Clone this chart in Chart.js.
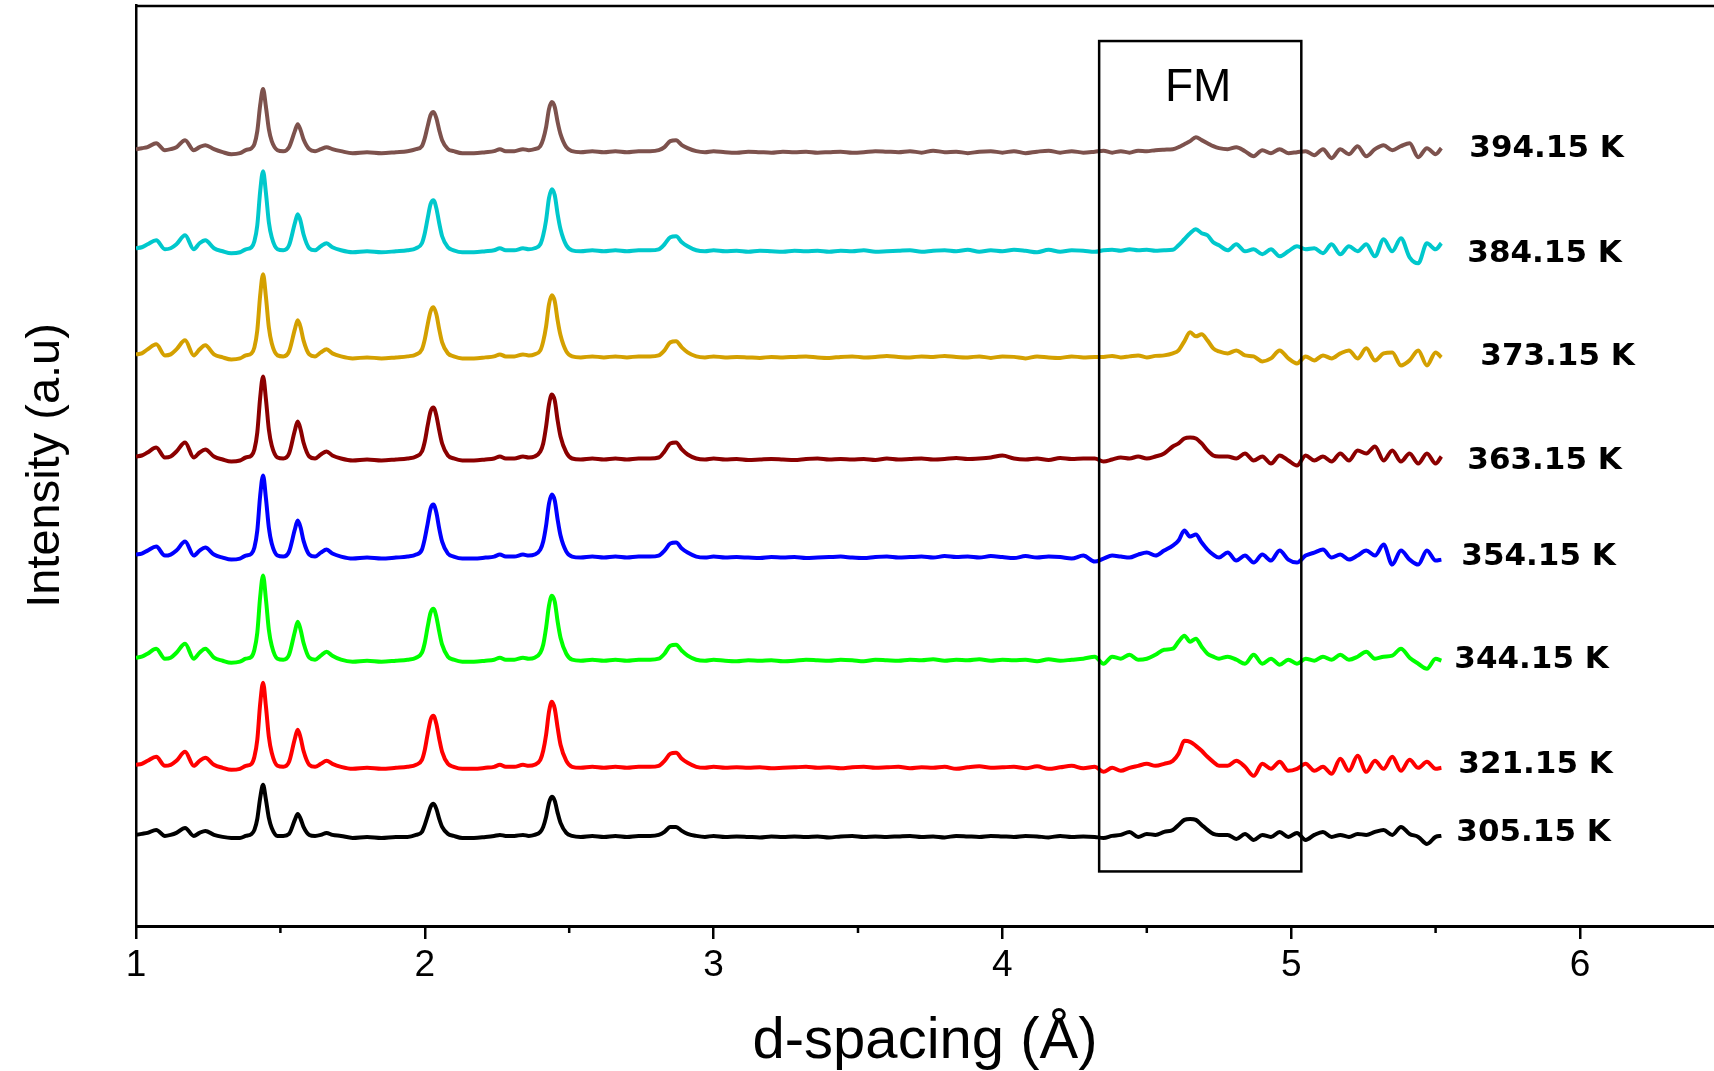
<!DOCTYPE html>
<html>
<head>
<meta charset="utf-8">
<script src="https://cdn.jsdelivr.net/npm/chart.js@4"></script>
<style>
  html, body { margin: 0; padding: 0; background: #fff; }
  #wrap { width: 1714px; height: 1071px; }
</style>
</head>
<body>
<div id="wrap"><canvas id="myChart" width="1714" height="1071"></canvas></div>
<script>
// d-spacing grid (Å), shared by all scans
const dSpacing = [1.00,1.02,1.04,1.07,1.10,1.12,1.14,1.17,1.20,1.22,1.24,1.27,1.30,1.33,1.36,1.38,1.40,
  1.41,1.42,1.43,1.44,1.45,1.46,1.47,1.49,1.51,1.53,1.55,1.56,1.57,1.58,1.60,1.62,1.64,1.66,1.68,1.71,
  1.75,1.80,1.85,1.90,1.94,1.97,1.99,2.00,2.01,2.02,2.03,2.04,2.05,2.06,2.08,2.10,2.13,2.17,2.21,2.24,2.26,2.28,2.31,2.34,2.36,2.38,2.40,
  2.41,2.42,2.43,2.44,2.45,2.46,2.47,2.49,2.51,2.54,2.58,2.62,2.66,2.70,2.74,2.78,2.81,2.83,2.85,2.87,2.89,2.91,2.94,2.97,3.00,
  3.04,3.08,3.12,3.16,3.20,3.24,3.28,3.32,3.36,3.40,3.44,3.48,3.52,3.56,3.60,3.64,3.68,3.72,3.76,3.80,3.84,3.88,3.92,3.96,4.00,4.04,4.08,4.12,4.16,4.20,4.24,4.28,4.32,
  4.35,4.38,4.41,4.44,4.47,4.50,4.53,4.56,4.59,
  4.61,4.63,4.65,4.67,4.69,4.71,4.73,
  4.75,
  4.78,4.81,4.84,4.87,4.90,4.93,4.96,4.99,5.02,5.05,5.08,5.11,5.14,5.17,5.20,5.23,5.26,5.29,5.32,5.35,5.38,5.41,5.44,5.47,5.50,
  5.52];

const temps = ['394.15 K','384.15 K','373.15 K','363.15 K','354.15 K','344.15 K','321.15 K','305.15 K'];
// vertical offset of each scan (a.u.)
const offsets = [77.3, 67.4, 56.8, 46.6, 36.8, 26.5, 15.8, 8.9];

// intensity above each scan's baseline (a.u.)
const i394 = [0.3,0.4,0.5,0.9,0.2,0.3,0.5,1.2,0.2,0.5,0.7,0.3,0,-0.2,-0.1,0.2,0.4,
  0.8,2.1,4.7,6.3,4.5,2.3,1.1,0.2,0.1,0.5,2.1,2.8,2.2,1.3,0.3,0.1,0.3,0.5,0.3,0.1,
  -0.1,0,-0.1,0,0.1,0.3,0.6,1.4,2.6,3.7,4.0,3.4,2.2,1.2,0.3,0.1,-0.1,-0.1,0,0.1,0.3,0.1,0.1,0.3,0.2,0.3,0.6,
  1.3,2.5,4.3,5.0,4.5,3.0,1.8,0.5,0.1,0,0.1,0,0.1,0,0.1,0.1,0.2,0.5,1.1,1.2,0.7,0.4,0.1,0,0.1,
  0,-0.05,0.05,0,-0.05,0.05,0,0.05,-0.05,0,0.05,-0.05,0,0.1,0.05,0,0.1,-0.05,0.15,0,0.05,-0.1,0.05,0.1,-0.05,0.1,-0.1,0.05,0.15,-0.05,0.1,-0.05,0.05,
  0.15,-0.05,0.1,-0.05,0.15,0.1,0.2,0.25,0.3,
  0.5,0.8,1.1,1.5,1.2,0.9,0.6,
  0.4,
  0.3,0.5,0.1,-0.4,0.2,-0.1,0.3,-0.1,0.0,0.1,-0.3,0.3,-0.6,0.3,-0.2,0.6,-0.4,0.3,0.7,0.2,0.6,0.9,-0.5,0.4,-0.2,
  0.4];
const i384 = [0.3,0.4,0.7,1.1,0.2,0.3,0.7,1.6,0.2,0.8,1.1,0.3,0,-0.2,-0.1,0.2,0.4,
  1.0,2.6,6.0,8.0,5.8,2.9,1.4,0.2,0.1,0.6,2.8,3.7,3.0,1.7,0.3,0.1,0.5,0.8,0.4,0.1,
  -0.1,0,-0.1,0,0.1,0.3,0.8,1.8,3.3,4.7,5.1,4.3,2.8,1.5,0.4,0.1,-0.1,-0.1,0,0.1,0.3,0.1,0.1,0.3,0.2,0.3,0.7,
  1.6,3.1,5.3,6.2,5.6,3.7,2.2,0.6,0.1,0,0.1,0,0.1,0,0.1,0.1,0.2,0.7,1.4,1.5,0.9,0.5,0.1,0,0.1,
  0,0.05,-0.05,0.05,0,-0.05,0.05,0,0.05,-0.05,0.05,0,0.1,-0.05,0,0.05,0.1,-0.05,0.05,0.1,0,0.15,-0.05,0.1,0,0.15,0.05,-0.1,0.15,-0.05,0.1,0.05,-0.05,
  0.1,0.15,0.05,0.2,0.1,0.15,0.05,0.1,0.15,
  0.6,1.2,1.8,2.2,1.8,1.6,0.9,
  0.6,
  0.1,0.7,0.0,0.2,-0.3,0.2,-0.5,0.0,0.5,0.2,0.3,-0.2,0.7,-0.3,0.5,0.0,0.7,-0.5,1.2,0.0,1.3,-0.6,-1.2,0.8,0.2,
  0.8];
const i373 = [0.3,0.4,0.8,1.3,0.2,0.3,0.8,1.7,0.2,0.8,1.2,0.3,0,-0.2,-0.1,0.2,0.4,
  1.0,2.7,6.2,8.3,6.0,3.0,1.4,0.2,0.1,0.6,2.8,3.7,3.0,1.7,0.3,0.1,0.5,0.8,0.4,0.1,
  -0.1,0,-0.1,0,0.1,0.3,0.8,1.8,3.3,4.6,5.0,4.3,2.8,1.5,0.4,0.1,-0.1,-0.1,0,0.1,0.3,0.1,0.1,0.3,0.2,0.3,0.7,
  1.6,3.1,5.3,6.2,5.6,3.7,2.2,0.6,0.1,0,0.1,0,0.1,0,0.1,0.1,0.2,0.7,1.5,1.6,1.0,0.5,0.1,0,0.1,
  0,0.05,0,-0.05,0.05,0,0.05,0.1,0,-0.05,0.05,0.1,0,0.05,0.15,0.05,0,0.1,0.05,0.15,0.05,0,0.1,-0.05,0.1,0.05,-0.1,0.1,0,-0.05,0.1,0,0.05,
  0.05,0.15,0,0.1,0.2,0,0.15,0.2,0.4,
  0.7,1.6,2.5,2.1,2.3,1.7,0.9,
  0.6,
  0.4,0.7,0.2,0.1,-0.4,-0.1,0.7,-0.1,-0.6,0.1,-0.3,0.2,-0.1,0.4,0.7,-0.1,0.9,-0.3,0.4,0.5,-0.8,-0.3,0.7,-0.8,0.5,
  0.0];
const i363 = [0.3,0.4,0.7,1.2,0.2,0.3,0.8,1.7,0.2,0.7,1.0,0.3,0,-0.2,-0.1,0.2,0.4,
  1.0,2.7,6.2,8.3,6.0,3.0,1.4,0.2,0.1,0.6,2.9,3.8,3.0,1.7,0.3,0.1,0.5,0.8,0.4,0.1,
  -0.1,0,-0.1,0,0.1,0.3,0.8,1.8,3.4,4.8,5.2,4.4,2.9,1.6,0.4,0.1,-0.1,-0.1,0,0.1,0.3,0.1,0.1,0.3,0.2,0.3,0.8,
  1.6,3.3,5.5,6.5,5.9,3.9,2.3,0.7,0.1,0,0.1,0,0.1,0,0.1,0.1,0.2,0.8,1.6,1.7,1.0,0.5,0.1,0,0.1,
  0,0.05,-0.05,0,0.05,0,-0.05,0.05,0.1,0,0.05,0,0.05,-0.05,0.1,0,0.05,0.1,0,0.05,0.15,0.05,0.1,0.2,0.4,0.1,0,0.1,-0.05,0.15,0.05,0.1,0.1,
  -0.2,0,0.2,0.1,0.3,0.1,0.3,0.6,1.3,
  1.6,2.1,2.2,2.1,1.6,0.9,0.4,
  0.3,
  0.3,0.1,0.6,-0.1,0.3,-0.4,0.4,-0.1,-0.6,0.4,-0.1,0.3,-0.2,0.6,-0.1,0.9,0.6,1.3,-0.1,0.9,-0.2,0.6,-0.4,0.6,-0.4,
  0.3];
const i354 = [0.3,0.4,0.7,1.1,0.2,0.3,0.7,1.6,0.2,0.7,1.0,0.3,0,-0.2,-0.1,0.2,0.4,
  1.0,2.7,6.2,8.2,5.9,3.0,1.4,0.2,0.1,0.6,2.8,3.7,3.0,1.7,0.3,0.1,0.5,0.8,0.4,0.1,
  -0.1,0,-0.1,0,0.1,0.3,0.8,1.9,3.4,4.9,5.3,4.5,2.9,1.6,0.4,0.1,-0.1,-0.1,0,0.1,0.3,0.1,0.1,0.3,0.2,0.3,0.8,
  1.6,3.2,5.4,6.3,5.7,3.8,2.2,0.6,0.1,0,0.1,0,0.1,0,0.1,0.1,0.2,0.7,1.4,1.5,0.9,0.5,0.1,0,0.1,
  0,0.05,0,-0.05,0.05,0,0.05,-0.05,0,0.05,0.1,0,-0.05,0.05,0.1,0,0.05,0.1,0,0.15,0.05,0.1,0,0.15,0.05,-0.05,0.15,0,0.1,0.05,-0.1,0.2,-0.4,
  -0.1,0.2,0.1,0,0.3,0.5,0.2,0.7,1.2,
  1.7,2.7,2.1,2.3,1.5,0.8,0.3,
  0,
  0.5,-0.3,0.2,-0.5,0.3,-0.3,0.7,-0.2,-0.5,0.2,0.5,0.8,0,0.3,-0.2,0.2,0.7,0.2,1.3,-0.7,0.7,-0.2,-0.7,0.7,-0.3,
  -0.2];
const i344 = [0.3,0.4,0.7,1.2,0.2,0.3,0.8,1.7,0.2,0.8,1.2,0.3,0,-0.2,-0.1,0.2,0.4,
  1.1,2.8,6.4,8.5,6.1,3.1,1.5,0.2,0.1,0.6,2.9,3.9,3.1,1.8,0.3,0.1,0.5,0.9,0.5,0.1,
  -0.1,0,-0.1,0,0.1,0.3,0.8,1.8,3.4,4.8,5.2,4.4,2.9,1.6,0.4,0.1,-0.1,-0.1,0,0.1,0.3,0.1,0.1,0.3,0.2,0.3,0.8,
  1.6,3.3,5.5,6.5,5.9,3.9,2.3,0.7,0.1,0,0.1,0,0.1,0,0.1,0.1,0.2,0.7,1.5,1.6,1.0,0.5,0.1,0,0.1,
  0,-0.05,0.05,0,0.05,-0.05,0,0.1,0.05,0,0.1,0.05,-0.05,0.1,0.05,0,0.1,0.05,0.15,0,0.1,0.05,0.15,0,0.1,0.05,0.1,-0.05,0.15,0,0.1,0.2,0.4,
  -0.3,0.4,0.2,0.6,0.1,0.2,0.6,1.1,1.2,
  1.9,2.5,1.9,2.2,1.4,0.7,0.4,
  0.2,
  0.4,0.1,-0.3,0.6,-0.3,0.2,-0.4,0.1,-0.3,0.2,0,0.4,0.1,0.6,0.1,0.4,0.9,0.2,0.4,0.5,1.2,0.3,-0.3,-0.8,0.2,
  0.0];
const i321 = [0.3,0.4,0.7,1.1,0.2,0.3,0.7,1.6,0.2,0.7,1.0,0.3,0,-0.2,-0.1,0.2,0.4,
  1.1,2.8,6.4,8.5,6.1,3.1,1.5,0.2,0.1,0.6,2.9,3.8,3.0,1.7,0.3,0.1,0.4,0.7,0.4,0.1,
  -0.1,0,-0.1,0,0.1,0.3,0.8,1.8,3.4,4.8,5.2,4.4,2.9,1.6,0.4,0.1,-0.1,-0.1,0,0.1,0.3,0.1,0.1,0.3,0.2,0.3,0.8,
  1.7,3.3,5.6,6.6,5.9,4.0,2.3,0.7,0.1,0,0.1,0,0.1,0,0.1,0.1,0.2,0.7,1.4,1.5,0.9,0.5,0.1,0,0.1,
  0,0.05,0,0.05,-0.05,0,0.05,0.1,0,0.05,-0.05,0.05,0.1,0,0.05,0.1,-0.05,0.05,0,0.1,-0.1,0.05,0.15,0,0.05,0.1,-0.05,0.15,-0.1,0.05,0.2,-0.05,0.1,
  -0.4,0,-0.3,0,0.2,0.4,0.2,0.4,0.7,
  1.4,2.7,2.6,2.2,1.7,1.1,0.6,
  0.2,
  0.2,0.7,0.1,-0.8,0.4,-0.1,0.6,-0.3,-0.1,0.4,-0.3,0.1,-0.6,0.9,-0.3,1.2,-0.4,0.7,-0.1,1.1,-0.3,0.8,0,0.6,-0.1,
  0.0];
const i305 = [0.2,0.3,0.4,0.7,0.1,0.2,0.4,0.9,0.1,0.4,0.6,0.2,0,-0.1,-0.1,0.1,0.3,
  0.7,1.8,3.9,5.2,3.7,1.9,0.9,0.1,0.1,0.3,1.7,2.3,1.8,1.0,0.2,0.1,0.2,0.4,0.2,0.1,
  -0.1,0,-0.1,0,0,0.2,0.5,1.2,2.1,3.0,3.3,2.8,1.8,1.0,0.3,0.1,-0.1,-0.1,0,0.1,0.2,0.1,0.1,0.2,0.1,0.2,0.5,
  1.0,2.0,3.4,4.0,3.6,2.4,1.4,0.4,0.1,0,0.1,0,0.1,0,0.1,0.1,0.2,0.5,1.0,1.0,0.6,0.3,0.1,0,0.1,
  0,0.05,0,-0.05,0.05,0,0.05,0,0.05,-0.05,0.05,0.1,0,0.05,0,0.05,0.1,0,0.05,-0.05,0.1,0.05,0,0.1,0.05,0,0.1,0.05,-0.05,0.1,0,0.05,0,
  -0.1,0.1,0.2,0.5,0,0.3,0.2,0.5,0.7,
  1.2,1.7,1.8,1.7,1.2,0.7,0.3,
  0.2,
  0.2,-0.2,0.3,-0.3,0.2,0,0.5,0,0.4,-0.3,0.2,0.5,0,0.2,0,0.3,0.2,0.5,0.7,0.2,1.0,0.3,0,-0.7,0,
  0.1];

const series = [i394, i384, i373, i363, i354, i344, i321, i305];
const colors = ['#7d524d', '#00c8cc', '#d4a000', '#8b0000', '#0000ff', '#00ff00', '#ff0000', '#000000'];

// FM window (d-spacing from/to, intensity from/to)
const fmBox = [4.335, 5.035, 5.45, 88.4];
const minorTicks = [1.5, 2.5, 3.5, 4.5, 5.5];
// label placement after the trace end (px)
const labelGap = [28, 26, 39, 26, 20, 13, 17, 15];
const labelDy = [-3, 3, 0, 1, -1, -1, -3, -4];

series.forEach((s, k) => {
  if (s.length !== dSpacing.length) throw new Error('length mismatch ' + temps[k] + ': ' + s.length + ' vs ' + dSpacing.length);
});

const FONT = "'Liberation Sans', Arial, sans-serif";

const decor = {
  id: 'decor',
  afterDatasetsDraw(chart) {
    const { ctx, chartArea, scales: { x, y } } = chart;
    ctx.save();
    ctx.strokeStyle = '#000';
    ctx.lineWidth = 2.5;
    ctx.beginPath();
    ctx.moveTo(chartArea.left, chartArea.top + 1);
    ctx.lineTo(chartArea.right, chartArea.top + 1);
    ctx.stroke();

    // minor ticks on the d-spacing axis
    ctx.beginPath();
    minorTicks.forEach(v => {
      const px = x.getPixelForValue(v);
      ctx.moveTo(px, chartArea.bottom);
      ctx.lineTo(px, chartArea.bottom + 7);
    });
    ctx.stroke();

    // FM box
    const bx0 = x.getPixelForValue(fmBox[0]);
    const bx1 = x.getPixelForValue(fmBox[1]);
    const by0 = y.getPixelForValue(fmBox[3]);
    const by1 = y.getPixelForValue(fmBox[2]);
    ctx.lineWidth = 2.5;
    ctx.strokeRect(bx0, by0, bx1 - bx0, by1 - by0);
    ctx.fillStyle = '#000';
    ctx.font = '46px ' + FONT;
    ctx.textAlign = 'center';
    ctx.textBaseline = 'middle';
    ctx.fillText('FM', (bx0 + bx1) / 2 - 2, by0 + 47);

    // temperature labels
    ctx.font = "bold 31px 'DejaVu Sans', sans-serif";
    ctx.textAlign = 'left';
    const xEnd = x.getPixelForValue(dSpacing[dSpacing.length - 1]);
    temps.forEach((t, k) => {
      ctx.fillText(t, xEnd + labelGap[k], y.getPixelForValue(offsets[k]) + labelDy[k]);
    });
    ctx.restore();
  }
};

const ctx = document.getElementById('myChart').getContext('2d');
new Chart(ctx, {
  type: 'line',
  data: {
    datasets: series.map((s, k) => ({
      label: temps[k],
      data: dSpacing.map((d, i) => ({ x: d, y: offsets[k] + s[i] })),
      borderColor: colors[k],
      borderWidth: 4,
      pointRadius: 0,
      cubicInterpolationMode: 'monotone',
      fill: false
    }))
  },
  options: {
    responsive: false,
    animation: false,
    layout: { padding: { top: 5, left: 0, right: 0, bottom: 0 } },
    plugins: { legend: { display: false }, tooltip: { enabled: false } },
    scales: {
      x: {
        type: 'linear',
        min: 1,
        max: 6.464,
        afterBuildTicks: axis => { axis.ticks = [1, 2, 3, 4, 5, 6].map(v => ({ value: v })); },
        afterFit: scale => { scale.height = 145; },
        border: { display: true, color: '#000', width: 3 },
        grid: { display: true, drawOnChartArea: false, drawTicks: true, tickLength: 13, color: '#000', lineWidth: 2.5 },
        ticks: { color: '#000', font: { family: "'Liberation Sans Narrow', 'Liberation Sans', Arial, sans-serif", size: 37 }, padding: 5, maxRotation: 0 },
        title: { display: true, text: 'd-spacing (Å)', color: '#000', font: { family: FONT, size: 58, lineHeight: 1 }, padding: { top: 0, bottom: 0 } }
      },
      y: {
        min: 0,
        max: 92,
        afterFit: scale => { scale.width = 136; },
        border: { display: true, color: '#000', width: 2.5 },
        grid: { display: false },
        ticks: { display: false },
        title: { display: true, text: 'Intensity (a.u)', color: '#000', font: { family: FONT, size: 47, lineHeight: 1.2 }, padding: { top: 18, bottom: 0 } }
      }
    }
  },
  plugins: [decor]
});
</script>
</body>
</html>
